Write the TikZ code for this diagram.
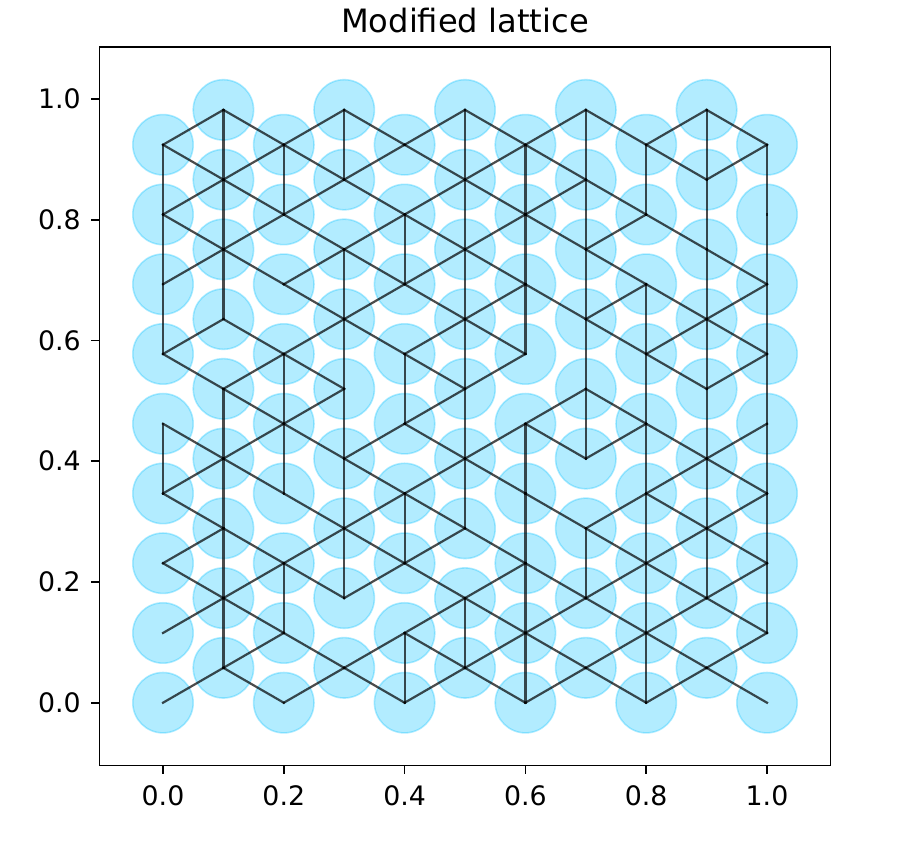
\documentclass[tikz,border=0pt]{standalone}
\usepackage{fontspec}
\setmainfont{DejaVu Sans}
\definecolor{cfill}{HTML}{00BFFF}
\tikzset{
  site/.style={fill=cfill, fill opacity=0.3, draw=cfill, draw opacity=0.3, line width=0.9pt},
  bond/.style={draw=black, opacity=0.7, line width=1.25pt, line cap=rect},
  spine/.style={draw=black, line width=1pt},
  tickmark/.style={draw=black, line width=1pt},
  ticklab/.style={font=\fontsize{15.25}{18}\selectfont, inner sep=0pt},
  titlelab/.style={font=\fontsize{18.3}{22}\selectfont, inner sep=0pt},
}
\begin{document}
\begin{tikzpicture}[x=0.02cm, y=0.02cm]
\path[use as bounding box] (0,0) rectangle (910,-850);
% lattice sites
\foreach \k in {0,...,17}{
  \foreach \i in {0,...,10}{
    \pgfmathtruncatemacro\pty{mod(\i+\k,2)}
    \ifnum\pty=0
      \coordinate (n-\i-\k) at ({163+60.4*\i},{-(702.7-34.872*\k)});
      \path[site] (n-\i-\k) circle[radius=30.2];
    \fi
  }
}
% bonds
\foreach \a/\b/\c/\d in {
0/16/0/14, 0/14/0/12, 0/12/0/10, 0/8/0/6,
1/17/1/15, 1/15/1/13, 1/13/1/11, 1/9/1/7, 1/7/1/5, 1/5/1/3, 1/3/1/1,
2/16/2/14, 2/10/2/8, 2/8/2/6, 2/4/2/2,
3/17/3/15, 3/13/3/11, 3/11/3/9, 3/9/3/7, 3/7/3/5, 3/5/3/3,
4/14/4/12, 4/10/4/8, 4/6/4/4, 4/2/4/0,
5/17/5/15, 5/15/5/13, 5/13/5/11, 5/11/5/9, 5/9/5/7, 5/7/5/5, 5/3/5/1,
6/16/6/14, 6/14/6/12, 6/12/6/10, 6/8/6/6, 6/6/6/4, 6/4/6/2, 6/2/6/0,
7/17/7/15, 7/15/7/13, 7/13/7/11, 7/11/7/9, 7/9/7/7, 7/5/7/3,
8/16/8/14, 8/12/8/10, 8/10/8/8, 8/8/8/6, 8/6/8/4, 8/4/8/2, 8/2/8/0,
9/17/9/15, 9/15/9/13, 9/13/9/11, 9/11/9/9, 9/9/9/7, 9/7/9/5, 9/5/9/3,
10/16/10/14, 10/14/10/12, 10/12/10/10, 10/10/10/8, 10/8/10/6, 10/6/10/4, 10/4/10/2,
0/16/1/17, 1/17/2/16, 2/16/3/17, 3/17/4/16, 4/16/5/17, 5/17/6/16, 6/16/7/17, 7/17/8/16, 8/16/9/17, 9/17/10/16,
0/16/1/15, 1/15/2/16, 2/16/3/15, 3/15/4/16, 4/16/5/15, 5/15/6/16, 6/16/7/15, 8/16/9/15, 9/15/10/16,
0/14/1/15, 1/15/2/14, 2/14/3/15, 3/15/4/14, 4/14/5/15, 5/15/6/14, 6/14/7/15, 7/15/8/14,
0/14/1/13, 1/13/2/14, 2/14/3/13, 3/13/4/14, 4/14/5/13, 5/13/6/14, 6/14/7/13, 7/13/8/14, 8/14/9/13,
0/12/1/13, 1/13/2/12, 2/12/3/13, 3/13/4/12, 4/12/5/13, 5/13/6/12, 7/13/8/12, 9/13/10/12,
2/12/3/11, 3/11/4/12, 4/12/5/11, 5/11/6/12, 6/12/7/11, 7/11/8/12, 8/12/9/11, 9/11/10/12,
0/10/1/11, 1/11/2/10, 2/10/3/11, 3/11/4/10, 4/10/5/11, 5/11/6/10, 7/11/8/10, 8/10/9/11, 9/11/10/10,
0/10/1/9, 1/9/2/10, 2/10/3/9, 4/10/5/9, 5/9/6/10, 8/10/9/9, 9/9/10/10,
1/9/2/8, 2/8/3/9, 4/8/5/9, 6/8/7/9, 7/9/8/8,
0/8/1/7, 1/7/2/8, 2/8/3/7, 3/7/4/8, 4/8/5/7, 5/7/6/8, 6/8/7/7, 7/7/8/8, 8/8/9/7, 9/7/10/8,
0/6/1/7, 1/7/2/6, 3/7/4/6, 4/6/5/7, 5/7/6/6, 8/6/9/7, 9/7/10/6,
0/6/1/5, 2/6/3/5, 3/5/4/6, 4/6/5/5, 6/6/7/5, 7/5/8/6, 8/6/9/5, 9/5/10/6,
0/4/1/5, 1/5/2/4, 2/4/3/5, 3/5/4/4, 4/4/5/5, 5/5/6/4, 7/5/8/4, 8/4/9/5, 9/5/10/4,
0/4/1/3, 1/3/2/4, 2/4/3/3, 3/3/4/4, 4/4/5/3, 5/3/6/4, 6/4/7/3, 7/3/8/4, 8/4/9/3, 9/3/10/4,
0/2/1/3, 1/3/2/2, 4/2/5/3, 5/3/6/2, 6/2/7/3, 7/3/8/2, 8/2/9/3, 9/3/10/2,
1/1/2/2, 2/2/3/1, 3/1/4/2, 4/2/5/1, 5/1/6/2, 6/2/7/1, 7/1/8/2, 8/2/9/1, 9/1/10/2,
0/0/1/1, 1/1/2/0, 2/0/3/1, 3/1/4/0, 4/0/5/1, 5/1/6/0, 6/0/7/1, 7/1/8/0, 8/0/9/1, 9/1/10/0}
  \draw[bond] (n-\a-\b) -- (n-\c-\d);
% axes frame
\draw[spine] (99.6,-47) rectangle (830.4,-765.5);
% x ticks
\foreach \v/\t in {0/0.0,1/0.2,2/0.4,3/0.6,4/0.8,5/1.0}{
  \coordinate (xt-\v) at ({163+120.8*\v},-765.5);
  \draw[tickmark] (xt-\v) -- ++(0,-8.5);
  \node[ticklab, anchor=base] (xl-\v) at ({163+120.8*\v},-805) {\t};
}
% y ticks
\foreach \v/\t in {0/0.0,1/0.2,2/0.4,3/0.6,4/0.8,5/1.0}{
  \coordinate (yt-\v) at (99.6,{-(702.7-120.74*\v)});
  \draw[tickmark] (yt-\v) -- ++(-8.5,0);
  \node[ticklab, anchor=base east] (yl-\v) at (81,{-(702.7-120.74*\v)-9.75}) {\t};
}
\node[titlelab, anchor=base] (title) at (465,-32) {Modified lattice};
\end{tikzpicture}
\end{document}
